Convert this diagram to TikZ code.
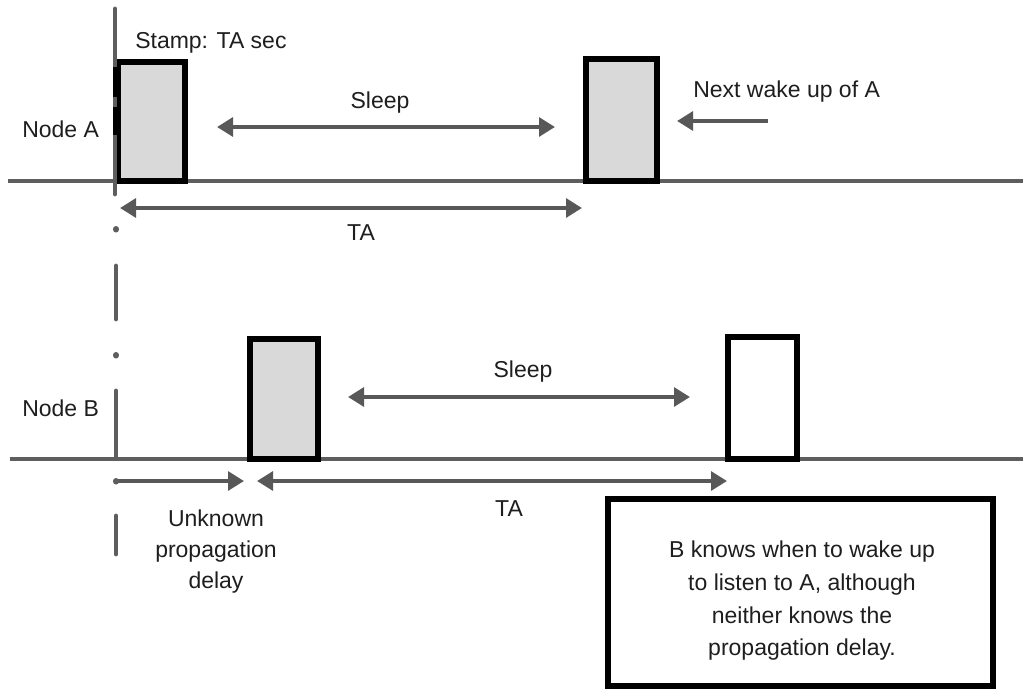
\documentclass[tikz,border=0pt]{standalone}
\usepackage{fontspec}
\setmainfont{Liberation Sans}
\usetikzlibrary{arrows.meta}
\definecolor{linegray}{HTML}{5E5E5E}
\definecolor{arrgray}{HTML}{585858}
\definecolor{slotgray}{HTML}{D9D9D9}
\definecolor{txt}{HTML}{1E1E1E}
\begin{document}
\begin{tikzpicture}[x=0.75pt,y=-0.75pt,
  tl/.style={draw=linegray,line width=3.6pt},
  vl/.style={draw=linegray,line width=3.6pt,line cap=round},
  dotv/.style={draw=linegray,line width=4.5pt,line cap=round},
  slot/.style={draw=black,line width=3.9pt,fill=slotgray},
  emptyslot/.style={draw=black,line width=3.9pt,fill=white},
  arr/.style={draw=arrgray,line width=3.6pt,-{Triangle[length=12pt,width=14pt]}},
  darr/.style={draw=arrgray,line width=3.6pt,{Triangle[length=12pt,width=14pt]}-{Triangle[length=12pt,width=14pt]}},
  lbl/.style={font=\fontsize{17.25}{24.4}\selectfont,text=txt,inner sep=0pt}]
\useasboundingbox (0,0) rectangle (1023,689);

% timelines
\coordinate (aL) at (8,181);   \coordinate (aR) at (1023,181);
\coordinate (bL) at (10,459);  \coordinate (bR) at (1023,459);
\draw[tl] (aL) -- (aR);
\draw[tl] (bL) -- (bR);

% slots
\draw[slot] (118,62) rectangle (185,181);
\draw[slot] (586,59) rectangle (657,181);
\draw[slot] (250,339) rectangle (318,459);
\draw[emptyslot] (728,337) rectangle (797,459);

% dash-dot vertical reference line
\draw[vl] (115,9) -- (115,194);
\draw[draw=black,line width=3.6pt] (115,67) -- (115,97) (115,107) -- (115,135);
\draw[dotv] (116,229) -- (116,229.5);
\draw[vl] (116,266) -- (116,319);
\draw[dotv] (116,355) -- (116,355.5);
\draw[vl] (116,391) -- (116,457);
\draw[vl] (116,516) -- (116,554);

% arrows
\coordinate (s1l) at (217,127); \coordinate (s1r) at (555,127);
\draw[darr] (s1l) -- (s1r);
\coordinate (nwS) at (768,121); \coordinate (nwE) at (677,121);
\draw[arr] (nwS) -- (nwE);
\coordinate (ta1l) at (120,208); \coordinate (ta1r) at (582,208);
\draw[darr] (ta1l) -- (ta1r);
\coordinate (s2l) at (348,397); \coordinate (s2r) at (690,397);
\draw[darr] (s2l) -- (s2r);
\coordinate (dS) at (116,481); \coordinate (dE) at (244,481);
\draw[arr] (dS) -- (dE);
\draw[dotv] (dS) -- ++(0,0.5);
\coordinate (ta2l) at (257,481); \coordinate (ta2r) at (727,481);
\draw[darr] (ta2l) -- (ta2r);

% note box
\draw[draw=black,line width=4.5pt] (608,499) rectangle (993,686);

% labels
\node[lbl,anchor=base west] (stamp) at (135,48) {Stamp: TA sec};
\node[lbl,anchor=base west] (na) at (22,137) {Node A};
\node[lbl,anchor=base west] (nb) at (22,416) {Node B};
\node[lbl,anchor=base] (sleep1) at (380,108) {Sleep};
\node[lbl,anchor=base west] (next) at (693,97) {Next wake up of A};
\node[lbl,anchor=base] (ta1) at (361,240) {TA};
\node[lbl,anchor=base] (sleep2) at (523,377) {Sleep};
\node[lbl,anchor=base] (ta2) at (509,516) {TA};
\node[lbl,anchor=north,align=center,font=\fontsize{17.25}{23.25}\selectfont] (unk) at (216,510) {Unknown\\propagation\\delay};
\node[lbl,anchor=north,align=center,font=\fontsize{17.25}{24.4}\selectfont] (note) at (802,541) {B knows when to wake up\\to listen to A, although\\neither knows the\\propagation delay.};
\end{tikzpicture}
\end{document}
